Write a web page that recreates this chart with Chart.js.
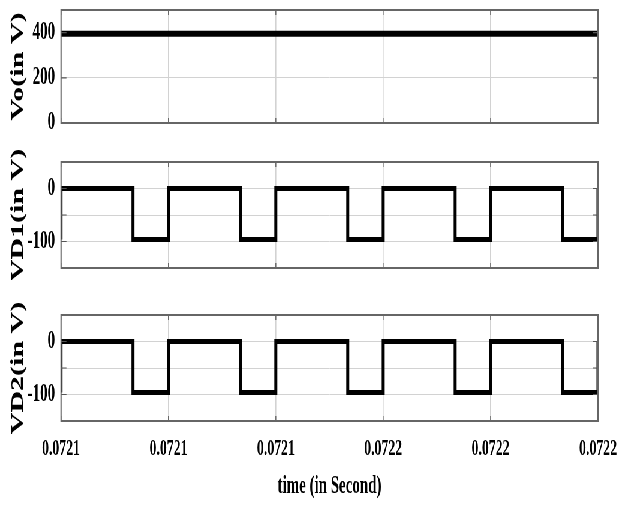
<!DOCTYPE html>
<html><head><meta charset="utf-8">
<script src="https://cdn.jsdelivr.net/npm/chart.js@4.4.0/dist/chart.umd.min.js"></script>
<style>
html,body{margin:0;padding:0;background:#fff;overflow:hidden;width:619px;height:508px;}
#wrap{position:absolute;left:0;top:0;width:1032px;height:508px;transform:scaleX(0.59981);transform-origin:0 0;}
canvas{position:absolute;left:0;}
</style></head><body>
<div id="wrap">
<canvas id="c1" width="1032" height="135" style="top:0px"></canvas>
<canvas id="c2" width="1032" height="135" style="top:145px"></canvas>
<canvas id="c3" width="1032" height="218" style="top:290px"></canvas>
</div>
<script>
// ---- data ----
const xTicks = [0.07210, 0.07212, 0.07214, 0.07216, 0.07218, 0.07220];
const xTickLabels = ['0.0721', '0.0721', '0.0721', '0.0722', '0.0722', '0.0722'];

const voTime = [0.07210, 0.07220];
const voValues = [395, 395];
const voYTicks = [0, 200, 400];
const voYTickLabels = ['0', '200', '400'];

const vdTime = [0.07210, 0.07210, 0.0721134, 0.0721134, 0.07212, 0.07212,
                0.0721334, 0.0721334, 0.07214, 0.07214, 0.0721534, 0.0721534,
                0.07216, 0.07216, 0.0721734, 0.0721734, 0.07218, 0.07218,
                0.0721934, 0.0721934, 0.07220, 0.07220];
const vd1Values = [-96, 0, 0, -96, -96, 0, 0, -96, -96, 0, 0, -96,
                   -96, 0, 0, -96, -96, 0, 0, -96, -96, 0];
const vd2Values = [-96, 0, 0, -96, -96, 0, 0, -96, -96, 0, 0, -96,
                   -96, 0, 0, -96, -96, 0, 0, -96, -96, 0];
const vdYTicks = [-100, -50, 0];
const vdYTickLabels = ['-100', '', '0'];

// ---- layout helpers ----
const S = 619 / 1032;
const FONT = "'Liberation Serif', 'Times New Roman', serif";

const framePlugin = {
  id: 'frame',
  afterDatasetsDraw(chart) {
    const {ctx, chartArea: a, scales} = chart;
    ctx.save();
    ctx.strokeStyle = '#555';
    ctx.lineWidth = 1.2;
    ctx.beginPath();
    scales.x.ticks.forEach(t => {
      const px = scales.x.getPixelForValue(t.value);
      ctx.moveTo(px, a.top); ctx.lineTo(px, a.top + 5);
      ctx.moveTo(px, a.bottom); ctx.lineTo(px, a.bottom - 5);
    });
    scales.y.ticks.forEach(t => {
      const py = scales.y.getPixelForValue(t.value);
      ctx.moveTo(a.left, py); ctx.lineTo(a.left + 9, py);
      ctx.moveTo(a.right, py); ctx.lineTo(a.right - 9, py);
    });
    ctx.stroke();
    ctx.strokeStyle = '#666';
    ctx.lineWidth = 2;
    ctx.strokeRect(a.left, a.top, a.right - a.left, a.bottom - a.top);
    ctx.restore();
  }
};

function makeChart(id, cfg) {
  const pts = cfg.time.map((t, i) => ({x: t, y: cfg.values[i]}));
  return new Chart(document.getElementById(id), {
    type: 'line',
    data: {datasets: [{data: pts, borderColor: '#000', borderWidth: cfg.lw,
      pointRadius: 0, tension: 0, fill: false}]},
    options: {
      responsive: false, animation: false, devicePixelRatio: 1,
      layout: {padding: {top: cfg.padTop, right: 35, left: 0, bottom: 0}},
      plugins: {legend: {display: false}, tooltip: {enabled: false}},
      scales: {
        x: {
          type: 'linear', min: xTicks[0], max: xTicks[xTicks.length - 1],
          afterBuildTicks: s => { s.ticks = xTicks.map(v => ({value: v})); },
          ticks: {display: cfg.showX, callback: (v, i) => xTickLabels[i],
            font: {family: FONT, size: 23, weight: 'bold'}, color: '#000',
            padding: 14, maxRotation: 0, autoSkip: false},
          grid: {color: '#d2d2d2', lineWidth: 1.6, drawTicks: false},
          border: {display: false},
          title: {display: cfg.showX, text: 'time (in Second)', color: '#000',
            font: {family: FONT, size: 25, weight: 'bold'}, padding: {top: 0, bottom: 6}},
          afterFit: s => { s.height = cfg.xh; s.paddingLeft = 0; s.paddingRight = 0; }
        },
        y: {
          min: cfg.ymin, max: cfg.ymax,
          afterBuildTicks: s => { s.ticks = cfg.yTicks.map(v => ({value: v})); },
          ticks: {callback: (v, i) => cfg.yLabels[i],
            font: {family: FONT, size: 25, weight: 'bold'}, color: '#000',
            padding: 10, autoSkip: false},
          grid: {color: '#d2d2d2', lineWidth: 1, drawTicks: false},
          border: {display: false},
          title: {display: true, text: cfg.ytitle, color: '#000',
            font: {family: FONT, size: 30, weight: 'bold'}, padding: {top: 12, bottom: 0}},
          afterFit: s => { s.width = 61 / S; s.paddingTop = 0; s.paddingBottom = 0; }
        }
      }
    },
    plugins: [framePlugin]
  });
}

makeChart('c1', {time: voTime, values: voValues, ymin: 0, ymax: 500,
  yTicks: voYTicks, yLabels: voYTickLabels, ytitle: 'Vo(in V)',
  padTop: 10, xh: 12, showX: false, lw: 6});
makeChart('c2', {time: vdTime, values: vd1Values, ymin: -150, ymax: 50,
  yTicks: vdYTicks, yLabels: vdYTickLabels, ytitle: 'VD1(in V)',
  padTop: 17, xh: 12, showX: false, lw: 5});
makeChart('c3', {time: vdTime, values: vd2Values, ymin: -150, ymax: 50,
  yTicks: vdYTicks, yLabels: vdYTickLabels, ytitle: 'VD2(in V)',
  padTop: 25, xh: 87, showX: true, lw: 5});
</script>
</body></html>
